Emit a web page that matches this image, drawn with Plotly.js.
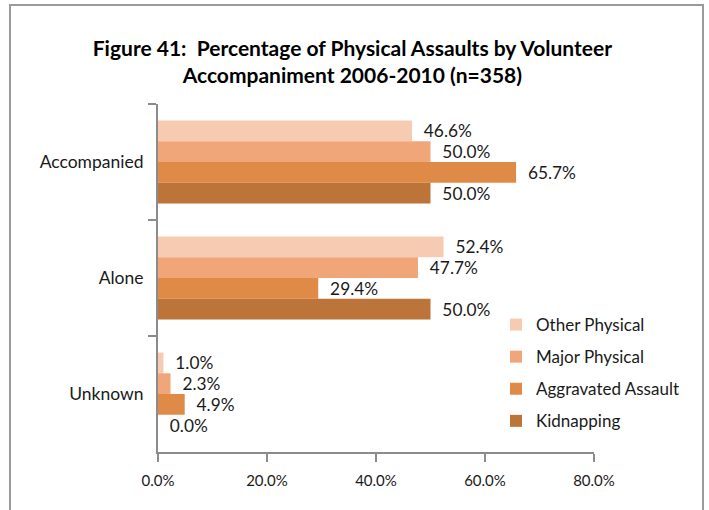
<!DOCTYPE html>
<html>
<head>
<meta charset="utf-8">
<script src="https://cdn.plot.ly/plotly-3.0.1.min.js"></script>
<style>
html,body{margin:0;padding:0;background:#fff;}
#chart{width:709px;height:510px;}
</style>
</head>
<body>
<div id="chart"></div>
<script>
// Data
const categories = ["Accompanied", "Alone", "Unknown"];
const seriesNames = ["Other Physical", "Major Physical", "Aggravated Assault", "Kidnapping"];
const otherPhysical = [46.6, 52.4, 1.0];
const majorPhysical = [50.0, 47.7, 2.3];
const aggravatedAssault = [65.7, 29.4, 4.9];
const kidnapping = [50.0, 50.0, 0.0];
const xTickValues = [0, 20, 40, 60, 80];
const xTickLabels = ["0.0%", "20.0%", "40.0%", "60.0%", "80.0%"];

const colors = ["#F7CBB2", "#F1A679", "#E08A47", "#BC7439"];
const seriesValues = [otherPhysical, majorPhysical, aggravatedAssault, kidnapping];
const FONT = "Lato, 'Open Sans', sans-serif";

const traces = seriesNames.map((name, i) => ({
  type: "bar",
  orientation: "h",
  name: name,
  y: categories,
  x: seriesValues[i],
  legendgroup: "g" + i,
  marker: { color: colors[i] },
  text: seriesValues[i].map(v => "  " + v.toFixed(1) + "%"),
  texttemplate: "%{text}",
  textposition: "outside",
  textfont: { family: FONT, size: 17.5, color: "#1a1a1a" },
  cliponaxis: false,
  hoverinfo: "skip"
}));

// Frame coordinates in paper units (plot area x:158..594, y:104..452)
const px = v => (v - 158) / 436;
const py = v => (452 - v) / 348;

const layout = {
  width: 709,
  height: 510,
  margin: { l: 158, r: 115, t: 104, b: 58 },
  paper_bgcolor: "#ffffff",
  plot_bgcolor: "#ffffff",
  barmode: "group",
  bargap: 0.285,
  bargroupgap: 0,
  title: {
    text: "<b>Figure 41:  Percentage of Physical Assaults by Volunteer<br>Accompaniment 2006-2010 (n=358)</b>",
    font: { family: FONT, size: 21, color: "#000" },
    x: 0.497, xanchor: "center",
    yref: "container", y: 0.89, yanchor: "top"
  },
  xaxis: {
    range: [0, 80],
    tickvals: xTickValues,
    ticktext: xTickLabels,
    showgrid: false,
    zeroline: false,
    showline: true,
    linecolor: "#8c8c8c",
    linewidth: 2,
    ticks: "outside",
    ticklen: 8,
    tickwidth: 2,
    tickcolor: "#8c8c8c",
    ticklabelstandoff: 6,
    tickfont: { family: FONT, size: 15, color: "#1a1a1a" },
    automargin: false,
    fixedrange: true
  },
  yaxis: {
    categoryorder: "array",
    categoryarray: categories,
    autorange: "reversed",
    showgrid: false,
    zeroline: false,
    showline: true,
    linecolor: "#8c8c8c",
    linewidth: 2,
    ticks: "outside",
    tickson: "boundaries",
    ticklen: 8,
    tickwidth: 2,
    tickcolor: "#8c8c8c",
    ticklabelstandoff: 9,
    tickfont: { family: FONT, size: 17.5, color: "#1a1a1a" },
    automargin: false,
    fixedrange: true
  },
  legend: {
    x: px(496), xanchor: "left",
    y: py(307), yanchor: "top",
    traceorder: "grouped",
    tracegroupgap: 7,
    font: { family: FONT, size: 17, color: "#1a1a1a" },
    bgcolor: "rgba(0,0,0,0)",
    itemwidth: 30
  },
  shapes: [{
    type: "rect", xref: "paper", yref: "paper",
    x0: px(10), x1: px(703), y0: py(520), y1: py(5),
    line: { color: "#9a9a9a", width: 2 },
    fillcolor: "rgba(0,0,0,0)",
    layer: "below"
  }],
  showlegend: true
};

Plotly.newPlot("chart", traces, layout, { displayModeBar: false, staticPlot: true });
</script>
</body>
</html>
